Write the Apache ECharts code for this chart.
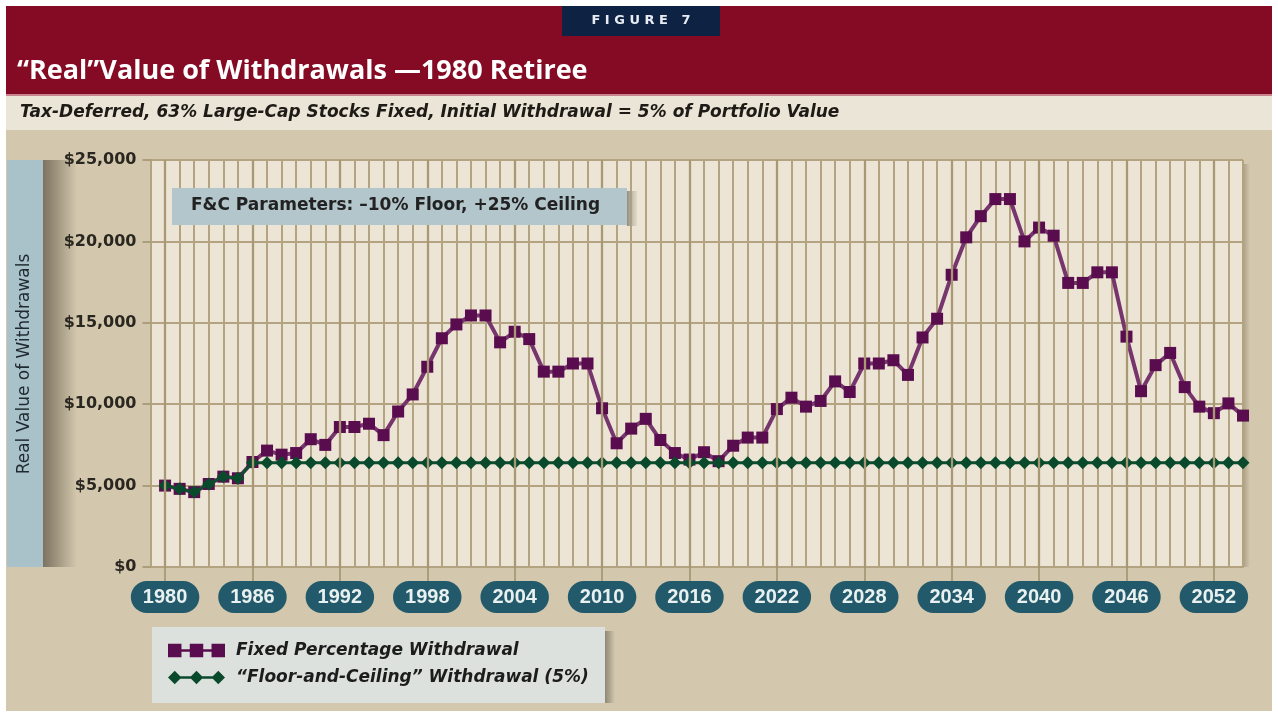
<!DOCTYPE html>
<html><head><meta charset="utf-8">
<script src="https://cdn.jsdelivr.net/npm/echarts@6/dist/echarts.min.js"></script>
<style>html,body{margin:0;padding:0;background:#fff}#c{width:1278px;height:717px}</style>
</head><body><div id="c"></div>
<script>
const years = [];
for (let y = 1980; y <= 2054; y++) years.push(y);
const fixedPct = [5000,4800,4600,5100,5550,5450,6450,7150,6900,7000,7850,7500,8600,8600,8800,8100,9550,10600,12300,14050,
  14900,15450,15450,13800,14450,14000,12000,12000,12500,12500,9750,7600,8500,9100,7800,7000,6600,7050,6500,7450,
  7950,7950,9700,10400,9850,10200,11400,10750,12500,12500,12700,11800,14100,15250,17950,20250,21550,22600,22600,20000,
  20850,20350,17450,17450,18100,18100,14150,10800,12400,13150,11050,9850,9450,10050,9300];
const floorCeil = [5000,4800,4600,5100,5550,5450,6400,6400,6400,6400,6400,6400,6400,6400,6400,6400,6400,6400,6400,6400,
  6400,6400,6400,6400,6400,6400,6400,6400,6400,6400,6400,6400,6400,6400,6400,6400,6400,6400,6400,6400,
  6400,6400,6400,6400,6400,6400,6400,6400,6400,6400,6400,6400,6400,6400,6400,6400,6400,6400,6400,6400,
  6400,6400,6400,6400,6400,6400,6400,6400,6400,6400,6400,6400,6400,6400,6400];
const xTickLabels = [1980,1986,1992,1998,2004,2010,2016,2022,2028,2034,2040,2046,2052];
const yTicks = [0,5000,10000,15000,20000,25000];
const seriesNames = ['Fixed Percentage Withdrawal', '\u201CFloor-and-Ceiling\u201D Withdrawal (5%)'];
const titleText = '\u201CReal\u201DValue of Withdrawals \u20141980 Retiree';
const subtitleText = 'Tax-Deferred, 63% Large-Cap Stocks Fixed, Initial Withdrawal = 5% of Portfolio Value';
const noteText = 'F&C Parameters: \u201310% Floor, +25% Ceiling';
const yAxisTitle = 'Real Value of Withdrawals';

const chart = echarts.init(document.getElementById('c'), null, {renderer: 'canvas'});
const gridCol = '#b3a381';
const sq = 'path://M0,0h13v13h-13z M21,0h13v13h-13z M42,0h13v13h-13z M13,5.25h8v2.5h-8z M34,5.25h8v2.5h-8z';
const dm = 'path://M6.5,0L13,6.5L6.5,13L0,6.5Z M27.5,0L34,6.5L27.5,13L21,6.5Z M48.5,0L55,6.5L48.5,13L42,6.5Z M11,5.25h12v2.5h-12z M32,5.25h12v2.5h-12z';

const option = {
  backgroundColor: '#ffffff',
  animation: false,
  grid: {left: 150.5, right: 35, top: 160, bottom: 150, show: true, backgroundColor: '#ece5d5', borderWidth: 0},
  xAxis: [{
    type: 'value', min: 1979, max: 2054, interval: 1,
    axisLine: {show: true, onZero: false, lineStyle: {color: gridCol, width: 2}},
    axisTick: {show: false}, axisLabel: {show: false},
    splitLine: {show: true, lineStyle: {color: gridCol, width: 2}}
  }, {
    type: 'value', min: 1979, max: 2054, position: 'bottom',
    axisLine: {show: false},
    axisTick: {show: true, customValues: xTickLabels, length: 14, lineStyle: {color: '#a08f6c', width: 1.5}},
    axisLabel: {show: true, customValues: xTickLabels, margin: 14, color: '#e9f0f0',
      fontFamily: 'Liberation Sans', fontWeight: 'bold', fontSize: 20,
      backgroundColor: '#235a6b', padding: [6, 12, 6, 12], borderRadius: 17,
      formatter: v => String(v)},
    splitLine: {show: false}
  }],
  yAxis: {
    type: 'value', min: 0, max: 25000, interval: 5000,
    axisLine: {show: true, lineStyle: {color: gridCol, width: 2}},
    axisTick: {show: true, length: 8, lineStyle: {color: '#a08f6c', width: 1.5}},
    axisLabel: {margin: 14, color: '#2a2620', fontFamily: 'DejaVu Sans', fontWeight: 'bold', fontSize: 16,
      formatter: v => '$' + (v === 0 ? '0' : v.toLocaleString('en-US'))},
    splitLine: {show: true, lineStyle: {color: gridCol, width: 2}}
  },
  legend: {
    orient: 'vertical', left: 163, top: 637, itemWidth: 57, itemHeight: 15, itemGap: 10,
    textStyle: {fontFamily: 'DejaVu Sans', fontStyle: 'italic', fontWeight: 'bold', fontSize: 17, color: '#1c1c1c', padding: [0,0,0,6]},
    data: [{name: seriesNames[0], icon: sq}, {name: seriesNames[1], icon: dm}]
  },
  series: [{
    name: '_grid6', type: 'line', data: [], silent: true, z: 1,
    markLine: {silent: true, symbol: 'none', label: {show: false},
      lineStyle: {color: '#a99874', width: 2.3, type: 'solid'},
      data: xTickLabels.map(v => ({xAxis: v}))}
  }, {
    name: seriesNames[0], type: 'line', z: 3,
    data: years.map((y, i) => [y, fixedPct[i]]),
    symbol: 'rect', symbolSize: 12,
    lineStyle: {color: '#77356d', width: 4},
    itemStyle: {color: '#5a0d4e'}
  }, {
    name: seriesNames[1], type: 'line', z: 4,
    data: years.map((y, i) => [y, floorCeil[i]]),
    symbol: 'diamond', symbolSize: 13,
    lineStyle: {color: '#0f4d31', width: 3},
    itemStyle: {color: '#0a4a2c'}
  }],
  graphic: [
    {type: 'rect', z: -10, shape: {x: 6, y: 6, width: 1266, height: 705}, style: {fill: '#d3c8ad'}},
    {type: 'rect', z: -9, shape: {x: 6, y: 6, width: 1266, height: 88}, style: {fill: '#850b24'}},
    {type: 'rect', z: -9, shape: {x: 6, y: 94, width: 1266, height: 2}, style: {fill: '#c8838f'}},
    {type: 'rect', z: -9, shape: {x: 6, y: 96, width: 1266, height: 34}, style: {fill: '#ebe5d7'}},
    {type: 'rect', z: -8, shape: {x: 562, y: 6, width: 158, height: 30}, style: {fill: '#0e2244'}},
    {type: 'text', z: -7, x: 641, y: 21, style: {text: 'F I G U R E   7', fill: '#e8ecf2', font: 'bold 13px "DejaVu Sans"', align: 'center', verticalAlign: 'middle'}},
    {type: 'text', z: -7, x: 17, y: 71, style: {text: titleText, fill: '#ffffff', font: 'bold 27px "Open Sans"', verticalAlign: 'middle'}},
    {type: 'text', z: -7, x: 20, y: 113, style: {text: subtitleText, fill: '#1e1a16', font: 'italic bold 17px "DejaVu Sans"', verticalAlign: 'middle'}},
    {type: 'rect', z: -8, shape: {x: 7, y: 160, width: 36, height: 407}, style: {fill: '#a9c1c9'}},
    {type: 'rect', z: -8, shape: {x: 43, y: 160, width: 34, height: 407}, style: {fill: new echarts.graphic.LinearGradient(0, 0, 1, 0, [{offset: 0, color: '#7b7260'}, {offset: 1, color: '#d3c8ad'}])}},
    {type: 'text', z: -7, x: 25, y: 364, rotation: Math.PI / 2, style: {text: yAxisTitle, fill: '#1f2a30', font: '17px "DejaVu Sans"', align: 'center', verticalAlign: 'middle'}},
    {type: 'rect', z: -8, shape: {x: 1243, y: 164, width: 7, height: 403}, style: {fill: new echarts.graphic.LinearGradient(0, 0, 1, 0, [{offset: 0, color: '#a99d83'}, {offset: 1, color: '#d3c8ad'}])}},
    {type: 'rect', z: 10, shape: {x: 627, y: 191, width: 10, height: 35}, style: {fill: new echarts.graphic.LinearGradient(0, 0, 1, 0, [{offset: 0, color: '#8f8a7c'}, {offset: 1, color: 'rgba(200,190,165,0.3)'}])}},
    {type: 'rect', z: 10, shape: {x: 172, y: 188, width: 455, height: 37}, style: {fill: '#b3c6cc'}},
    {type: 'text', z: 11, x: 191, y: 206, style: {text: noteText, fill: '#222222', font: 'bold 17px "DejaVu Sans"', verticalAlign: 'middle'}},
    {type: 'rect', z: -8, shape: {x: 605, y: 631, width: 10, height: 72}, style: {fill: new echarts.graphic.LinearGradient(0, 0, 1, 0, [{offset: 0, color: '#8f8775'}, {offset: 1, color: '#d3c8ad'}])}},
    {type: 'rect', z: -8, shape: {x: 152, y: 627, width: 453, height: 76}, style: {fill: '#dde1de'}}
  ]
};
chart.setOption(option);
</script></body></html>
